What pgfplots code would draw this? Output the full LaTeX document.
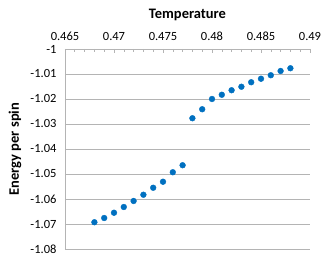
\documentclass[border=0pt]{standalone}
\usepackage{pgfplots}
\pgfplotsset{compat=1.18}
\usepackage{fontspec}
\setmainfont{Carlito}
\definecolor{ptblue}{RGB}{0,112,192}
\definecolor{gridgray}{RGB}{180,180,180}
\begin{document}
\begin{tikzpicture}[x=1pt,y=1pt]
\useasboundingbox (0,0) rectangle (332,261);
\begin{axis}[
  scale only axis,
  anchor=south west, at={(65pt,12pt)},
  width=245pt, height=200pt,
  xmin=0.465, xmax=0.49, ymin=-1.08, ymax=-1,
  axis x line*=top, axis y line*=left,
  axis line style={gridgray, line width=0.7pt},
  xtick={0.465,0.47,...,0.49},
  ytick={-1.08,-1.07,...,-1.0},
  minor x tick num=4,
  xtick align=inside,
  x tick style={gridgray, line width=0.6pt},
  major tick length=4pt, minor tick length=3pt,
  y tick style={draw=none},
  ymajorgrids, grid style={gridgray, line width=0.7pt},
  tick label style={font=\fontsize{12.5}{13}\selectfont},
  /pgf/number format/assume math mode=true,
  /pgf/number format/precision=3,
  xticklabel style={/pgf/number format/precision=3, /pgf/number format/fixed, yshift=5pt},
  yticklabel style={/pgf/number format/fixed, xshift=-5pt},
  xlabel={\textbf{Temperature}},
  ylabel={\textbf{Energy per spin}},
  label style={font=\fontsize{14.5}{15}\selectfont},
  xlabel style={at={(axis description cs:0.5,1.17)}, anchor=center},
  ylabel style={at={(axis description cs:-0.204,0.5)}, anchor=center, rotate=0},
]
\addplot[only marks, mark=*, mark size=2.9pt, color=ptblue] coordinates {
(0.468,-1.0693) (0.469,-1.0676) (0.470,-1.0655) (0.471,-1.0632) (0.472,-1.0608)
(0.473,-1.0583) (0.474,-1.0555) (0.475,-1.0531) (0.476,-1.0493) (0.477,-1.0465)
(0.478,-1.0277) (0.479,-1.0241) (0.480,-1.0200) (0.481,-1.0183) (0.482,-1.0165)
(0.483,-1.0151) (0.484,-1.0133) (0.485,-1.0119) (0.486,-1.0105) (0.487,-1.0088)
(0.488,-1.0077)
};
\end{axis}
\end{tikzpicture}
\end{document}
